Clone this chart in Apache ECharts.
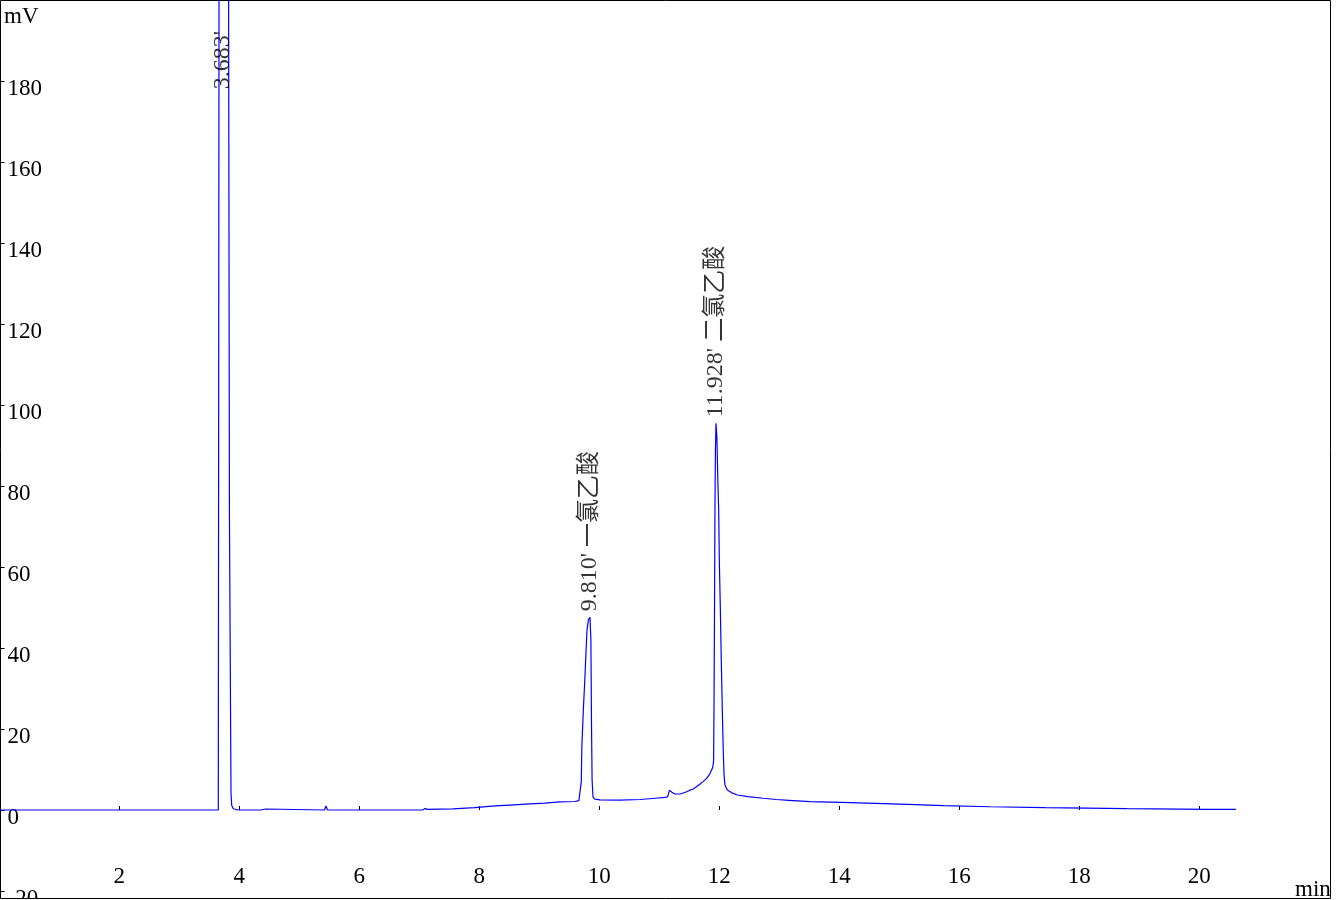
<!DOCTYPE html>
<html>
<head>
<meta charset="utf-8">
<script src="https://cdn.jsdelivr.net/npm/echarts@6/dist/echarts.min.js"></script>
<style>
html,body{margin:0;padding:0;background:#fff;overflow:hidden}
#c{width:1336px;height:899px}
</style>
</head>
<body>
<div id="c"></div>
<script>
// ---- data ----
const times = [
  0.00, 3.65, 3.662, 3.668, 3.72, 3.80, 3.822, 3.836, 3.862, 3.873, 3.90, 3.93, 3.98,
  4.26, 4.29, 4.32, 4.36, 4.38, 4.44, 4.46, 5.42, 5.445, 5.47,
  7.06, 7.095, 7.13, 7.56, 7.92, 8.26, 8.51, 8.84, 9.09, 9.34, 9.59, 9.66,
  9.68, 9.70, 9.71, 9.735, 9.755, 9.78, 9.795, 9.82, 9.845, 9.86, 9.87, 9.88, 9.895, 9.925,
  10.01, 10.35, 10.68, 10.93, 11.10, 11.14, 11.17, 11.21, 11.26, 11.345, 11.457, 11.51,
  11.567, 11.68, 11.73, 11.79, 11.845, 11.89, 11.905, 11.912, 11.92, 11.928, 11.935, 11.945,
  11.96, 11.978, 11.99, 12.0, 12.017, 12.033, 12.05, 12.067, 12.08, 12.095, 12.13, 12.2, 12.3,
  12.48, 12.73, 12.95, 13.16, 13.51, 14.03, 14.6, 15.14, 15.74, 16.51, 17.43, 18.8, 20.13, 20.61
];
const signal = [
  0, 0, 0.2, 300, 900, 400, 200, 72, 4.2, 1.2, 0.3, 0.2, 0,
  0, 0.4, 0, 0, 0.25, 0.25, 0, 0, 1.0, 0,
  0, 0.4, 0.15, 0.3, 0.6, 1.0, 1.23, 1.5, 1.7, 2.0, 2.1, 2.3,
  2.5, 7, 16, 25, 31, 39.5, 44.4, 47, 47.6, 42, 21.5, 7.4, 3.2, 2.7,
  2.5, 2.45, 2.6, 2.9, 3.1, 3.3, 4.9, 4.4, 3.95, 3.95, 4.5, 4.9,
  5.2, 6.4, 7.0, 7.8, 9.0, 10.5, 12, 25, 48, 75, 88, 95.5,
  92, 80, 74, 62, 50, 37, 25, 14, 8.5, 6.2, 5.0, 4.3, 3.7,
  3.3, 2.9, 2.6, 2.4, 2.05, 1.9, 1.65, 1.4, 1.06, 0.8, 0.57, 0.35, 0.17, 0.15
];
const xTickValues = [2, 4, 6, 8, 10, 12, 14, 16, 18, 20];
const yTickValues = [-20, 0, 20, 40, 60, 80, 100, 120, 140, 160, 180];
const peakTimes = [3.683, 9.810, 11.928];
const peakNames = ['', '一氯乙酸', '二氯乙酸'];
const xUnit = 'min';
const yUnit = 'mV';

// ---- chart ----
const X_MIN = 0.02, X_MAX = 22.187;
const Y_MIN = -21.85, Y_MAX = 199.88;
const labelCap = Y_MAX - 23.4;
const FONT = "'Liberation Serif', 'Times New Roman', serif";
const LABEL_FONT = "'Liberation Serif', 'Noto Sans CJK SC', serif";

const series = times.map((t, i) => [t, signal[i]]);

const anchors = peakTimes.map((rt, k) => {
  let best = null;
  series.forEach(p => {
    if (Math.abs(p[0] - rt) < 0.1 && (!best || p[1] > best[1])) best = p;
  });
  const txt = rt.toFixed(3) + "'" + (peakNames[k] ? ' ' + peakNames[k] : '');
  return { value: [best[0], Math.min(best[1], labelCap)], txt: txt };
});

const chart = echarts.init(document.getElementById('c'), null, { renderer: 'canvas' });
chart.setOption({
  animation: false,
  backgroundColor: '#fff',
  grid: {
    left: 0.5, top: 0.5, width: 1330, height: 898,
    containLabel: false, outerBoundsMode: 'none',
    show: true, borderColor: '#000', borderWidth: 1, backgroundColor: 'transparent'
  },
  xAxis: {
    type: 'value', min: X_MIN, max: X_MAX,
    axisLine: { show: false },
    splitLine: { show: false },
    axisTick: { show: true, inside: true, length: 4, lineStyle: { color: '#000' }, customValues: xTickValues },
    axisLabel: {
      inside: true, margin: 10, color: '#000', fontFamily: FONT, fontSize: 23,
      customValues: xTickValues, formatter: v => String(v)
    }
  },
  yAxis: {
    type: 'value', min: Y_MIN, max: Y_MAX,
    axisLine: { show: false },
    splitLine: { show: false },
    axisTick: { show: true, inside: true, length: 4, lineStyle: { color: '#000' }, customValues: yTickValues },
    axisLabel: {
      inside: true, margin: 7, color: '#000', fontFamily: FONT, fontSize: 23,
      align: 'left', verticalAlign: 'top', lineHeight: 15,
      customValues: yTickValues, formatter: v => String(v)
    }
  },
  graphic: [
    { type: 'text', x: 4, y: 17, silent: true,
      style: { text: yUnit, font: "23px " + FONT, fill: '#000', textVerticalAlign: 'middle', textAlign: 'left' } },
    { type: 'text', x: 1295, y: 890, silent: true,
      style: { text: xUnit, font: "23px " + FONT, fill: '#000', textVerticalAlign: 'middle', textAlign: 'left' } }
  ],
  series: [
    {
      type: 'line', data: series, showSymbol: false, symbol: 'none', clip: true,
      lineStyle: { color: '#0000ff', width: 1.2 }, sampling: 'none', z: 2
    },
    {
      type: 'scatter', symbolSize: 0, z: 3,
      data: anchors.map(a => ({ value: a.value })),
      label: {
        show: true, position: 'inside', rotate: 90,
        align: 'left', verticalAlign: 'middle', padding: [5, 0, 0, 6],
        color: '#000', fontFamily: LABEL_FONT, fontSize: 24,
        formatter: p => anchors[p.dataIndex].txt
      }
    }
  ]
});
</script>
</body>
</html>
